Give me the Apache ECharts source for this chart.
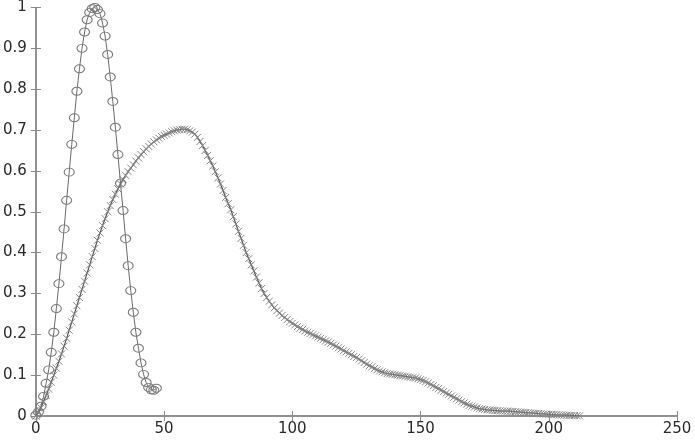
<!DOCTYPE html>
<html>
<head>
<meta charset="utf-8">
<script src="https://cdn.jsdelivr.net/npm/echarts@6/dist/echarts.min.js"></script>
<style>html,body{margin:0;padding:0;background:#fff}#c{width:695px;height:441px}</style>
</head>
<body>
<div id="c"></div>
<script>
// Circle series: x = 0..47
const circleY = [0.002,0.01,0.024,0.048,0.08,0.113,0.156,0.205,0.263,0.324,0.39,0.458,0.528,0.597,0.665,0.73,0.795,0.85,0.9,0.94,0.97,0.988,0.997,1.0,0.995,0.985,0.962,0.93,0.885,0.83,0.77,0.707,0.64,0.57,0.503,0.434,0.368,0.307,0.254,0.205,0.166,0.13,0.102,0.082,0.07,0.064,0.063,0.068];
// Cross series: x = 0..212
const crossY = [0,0.008,0.02,0.035,0.05,0.066,0.083,0.1,0.117,0.134,
0.152,0.171,0.19,0.21,0.23,0.25,0.27,0.29,0.31,0.33,
0.35,0.37,0.39,0.41,0.43,0.448,0.466,0.483,0.5,0.515,
0.53,0.543,0.556,0.568,0.579,0.589,0.598,0.607,0.615,0.624,
0.632,0.64,0.647,0.654,0.66,0.666,0.671,0.676,0.68,0.684,
0.687,0.69,0.693,0.696,0.698,0.7,0.701,0.702,0.702,0.701,
0.698,0.695,0.69,0.682,0.672,0.662,0.65,0.638,0.625,0.612,
0.598,0.583,0.568,0.552,0.535,0.52,0.505,0.488,0.47,0.452,
0.435,0.418,0.4,0.385,0.37,0.355,0.34,0.326,0.312,0.3,
0.29,0.281,0.272,0.265,0.258,0.252,0.246,0.241,0.236,0.231,
0.227,0.223,0.219,0.215,0.212,0.208,0.205,0.202,0.199,0.196,
0.193,0.19,0.187,0.184,0.181,0.178,0.174,0.171,0.167,0.164,
0.16,0.157,0.153,0.15,0.146,0.143,0.139,0.135,0.131,0.127,
0.123,0.12,0.116,0.113,0.11,0.108,0.106,0.104,0.103,0.102,
0.101,0.1,0.099,0.098,0.097,0.096,0.095,0.094,0.093,0.091,
0.089,0.087,0.084,0.081,0.077,0.074,0.07,0.067,0.063,0.06,
0.056,0.053,0.049,0.046,0.042,0.039,0.035,0.032,0.029,0.026,
0.024,0.022,0.02,0.018,0.017,0.016,0.015,0.0145,0.014,0.0135,
0.013,0.0125,0.012,0.012,0.012,0.0115,0.011,0.0105,0.01,0.0095,
0.009,0.0085,0.008,0.0075,0.007,0.0065,0.006,0.0055,0.005,0.0045,
0.004,0.0037,0.0034,0.0031,0.0028,0.0025,0.0022,0.0019,0.0016,0.0013,
0.001,0.0007,0.0005];
const xTicks = {min: 0, max: 250, interval: 50};
const yTicks = {min: 0, max: 1, interval: 0.1};

const circleData = circleY.map((v, i) => [i, v]);
const crossData = crossY.map((v, i) => [i, v]);

const axisCol = '#8a8a8a';
const lbl = {color: '#2a2a2a', fontFamily: 'DejaVu Sans', fontSize: 15};
const chart = echarts.init(document.getElementById('c'), null, {renderer: 'canvas'});
chart.setOption({
  animation: false,
  backgroundColor: '#fff',
  grid: {left: 35, right: 18, top: 6, bottom: 25, containLabel: false},
  xAxis: [
    {type: 'value', min: xTicks.min, max: xTicks.max, interval: xTicks.interval, position: 'bottom',
     axisLine: {show: true, lineStyle: {color: axisCol, width: 1.5}},
     axisTick: {show: true, inside: true, length: 5, lineStyle: {color: axisCol}},
     axisLabel: Object.assign({margin: 6}, lbl), splitLine: {show: false}},
    {type: 'value', min: xTicks.min, max: xTicks.max, interval: xTicks.interval, position: 'top',
     axisLine: {show: true, lineStyle: {color: axisCol, width: 1.5}},
     axisTick: {show: true, inside: true, length: 5, lineStyle: {color: axisCol}},
     axisLabel: {show: false}, splitLine: {show: false}}
  ],
  yAxis: [
    {type: 'value', min: yTicks.min, max: yTicks.max, interval: yTicks.interval, position: 'left',
     axisLine: {show: true, lineStyle: {color: axisCol, width: 1.5}},
     axisTick: {show: true, inside: true, length: 5, lineStyle: {color: axisCol}},
     axisLabel: Object.assign({margin: 9}, lbl), splitLine: {show: false}},
    {type: 'value', min: yTicks.min, max: yTicks.max, interval: yTicks.interval, position: 'right',
     axisLine: {show: true, lineStyle: {color: axisCol, width: 1.5}},
     axisTick: {show: true, inside: true, length: 5, lineStyle: {color: axisCol}},
     axisLabel: {show: false}, splitLine: {show: false}}
  ],
  series: [
    {type: 'line', data: crossData, xAxisIndex: 0, yAxisIndex: 0,
     symbol: 'path://M0,0L10,10M10,0L0,10', symbolSize: 7, showAllSymbol: true,
     itemStyle: {color: 'rgba(0,0,0,0)', borderColor: '#858585', borderWidth: 1},
     lineStyle: {color: '#555', width: 1.2}, z: 2},
    {type: 'line', data: circleData, xAxisIndex: 0, yAxisIndex: 0,
     symbol: 'circle', symbolSize: [10, 8], showAllSymbol: true,
     itemStyle: {color: 'rgba(255,255,255,0)', borderColor: '#7a7a7a', borderWidth: 1},
     lineStyle: {color: '#6a6a6a', width: 1}, z: 3}
  ]
});
</script>
</body>
</html>
